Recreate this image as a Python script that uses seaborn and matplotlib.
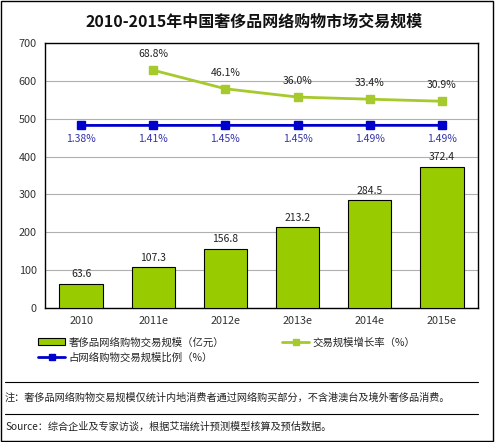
import matplotlib
matplotlib.use('Agg')
import matplotlib.pyplot as plt
import seaborn as sns
import pandas as pd
from matplotlib.lines import Line2D
from matplotlib.patches import Patch, Rectangle

sns.set_style('white')
plt.rcParams['font.family'] = ['Noto Sans CJK SC', 'DejaVu Sans']

years = ['2010', '2011e', '2012e', '2013e', '2014e', '2015e']
scale = [63.6, 107.3, 156.8, 213.2, 284.5, 372.4]
growth_years = ['2011e', '2012e', '2013e', '2014e', '2015e']
growth = [68.8, 46.1, 36.0, 33.4, 30.9]
share = [1.38, 1.41, 1.45, 1.45, 1.49, 1.49]

green = '#99cc00'
lime = '#a6c92c'
blue = '#0000cc'

W, H = 495, 442
fig = plt.figure(figsize=(W / 100, H / 100), dpi=100)
ax = fig.add_axes([45 / W, (H - 308) / H, 433 / W, 265 / H])

df = pd.DataFrame({'year': years, 'scale': scale})
sns.barplot(data=df, x='year', y='scale', order=years, color=green,
            saturation=1, width=0.6, edgecolor='black', linewidth=0.8, ax=ax, zorder=3)
ax.set_ylim(0, 700)
ax.set_xlim(-0.5, 5.5)
ax.set_yticks(range(0, 701, 100))
ax.yaxis.grid(True, color='#b0b0b0', linewidth=0.8)
ax.set_axisbelow(True)
ax.set_xlabel('')
ax.set_ylabel('')
ax.tick_params(axis='both', labelsize=7.8, colors='#333333', length=0, pad=6)
for s in ax.spines.values():
    s.set_color('black')
    s.set_linewidth(1)
for i, v in enumerate(scale):
    ax.text(i, v + 12, f'{v:.1f}', ha='center', va='bottom', fontsize=7.5, color='#222222')

# percentage axis (hidden), growth and share share it
ax2 = ax.twinx()
ax2.set_ylim(-221.5, 102)
ax2.set_yticks([])
for s in ax2.spines.values():
    s.set_visible(False)
gx = [years.index(y) for y in growth_years]
ax2.plot(gx, growth, color=lime, linewidth=2, marker='s', markersize=6,
         markerfacecolor=lime, markeredgecolor=lime, zorder=4)
for x, v in zip(gx, growth):
    ax2.annotate(f'{v:.1f}%', (x, v), xytext=(0, 8), textcoords='offset points',
                 ha='center', va='bottom', fontsize=7.5, color='#222222')
sx = list(range(len(years)))
ax2.plot(sx, share, color=blue, linewidth=2, marker='s', markersize=6,
         markerfacecolor=blue, markeredgecolor=blue, zorder=4)
for x, v in zip(sx, share):
    ax2.annotate(f'{v:.2f}%', (x, v), xytext=(0, -6), textcoords='offset points',
                 ha='center', va='top', fontsize=7.5, color='#3333aa')

fig.text(254 / W, 1 - 22 / H, '2010-2015年中国奢侈品网络购物市场交易规模',
         ha='center', va='center', fontsize=11.5, fontweight='bold', color='#111111')

handles = [Patch(facecolor=green, edgecolor='black', linewidth=0.8),
           Line2D([], [], color=blue, linewidth=2, marker='s', markersize=4),
           Line2D([], [], color=lime, linewidth=2, marker='s', markersize=4)]
labels = ['奢侈品网络购物交易规模（亿元）', '占网络购物交易规模比例（%）', '交易规模增长率（%）']
fig.legend(handles, labels, ncol=2, loc='upper left', bbox_to_anchor=(38 / W, 1 - 337 / H),
           frameon=False, fontsize=7.5, handlelength=2.6, handleheight=0.7,
           handletextpad=0.3, columnspacing=5.6, labelspacing=0.45, borderaxespad=0,
           borderpad=0)

fig.add_artist(Line2D([5 / W, 478 / W], [1 - 382 / H, 1 - 382 / H], color='black', linewidth=0.8))
fig.add_artist(Line2D([5 / W, 478 / W], [1 - 414 / H, 1 - 414 / H], color='black', linewidth=0.8))
fig.text(5 / W, 1 - 398 / H,
         '注：奢侈品网络购物交易规模仅统计内地消费者通过网络购买部分，不含港澳台及境外奢侈品消费。',
         ha='left', va='center', fontsize=7.3, color='#222222')
fig.text(5 / W, 1 - 427 / H, 'Source：综合企业及专家访谈，根据艾瑞统计预测模型核算及预估数据。',
         ha='left', va='center', fontsize=7.3, color='#222222')
fig.add_artist(Rectangle((1 / W, 1 / H), 492 / W, 440 / H, transform=fig.transFigure,
                         fill=False, edgecolor='black', linewidth=1))

fig.savefig('out.png', dpi=100)
